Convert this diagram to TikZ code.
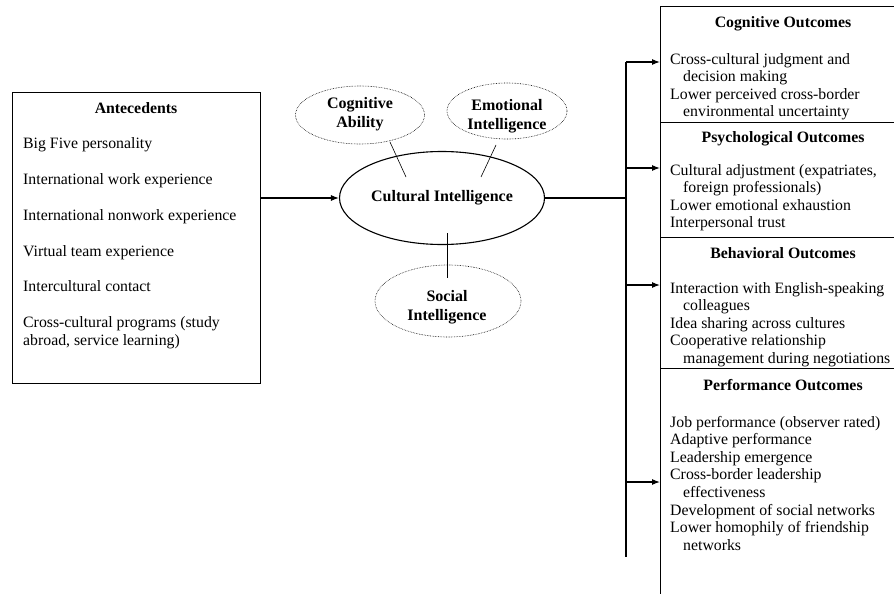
\documentclass[tikz,border=0pt]{standalone}
\usepackage{fontspec}
\setmainfont{Liberation Serif}
\usetikzlibrary{shapes.geometric,arrows.meta,calc}
\newcommand\myind{\hspace*{13pt}}
\begin{document}
\begin{tikzpicture}[x=1pt,y=-1pt,
 txt/.style={font=\fontsize{15.8}{17.6}\selectfont, inner sep=0, align=left, anchor=base west},
 ttl/.style={font=\fontsize{15.8}{17.6}\selectfont\bfseries, inner sep=0, anchor=base},
 outbox/.style={draw, line width=1.1pt, rectangle, inner sep=0, anchor=north west, minimum width=260},
 dotell/.style={ellipse, draw, densely dotted, line width=0.6pt, inner sep=0},
 etxt/.style={font=\fontsize{16}{19}\selectfont\bfseries, align=center, inner sep=0},
 conn/.style={line width=1.1pt},
 arr/.style={line width=1.1pt, -{Latex[length=8pt,width=6pt]}},
 tick/.style={line width=0.6pt}
]
\useasboundingbox (0,0) rectangle (894,594);
\fill[white] (0,0) rectangle (894,594);

% Antecedents
\node[draw, line width=1.1pt, anchor=north west, minimum width=248, minimum height=291, inner sep=0] (ante) at (12,92) {};
\node[ttl] (antet) at (136,113) {Antecedents};
\node[txt] (a1) at (23,148) {Big Five personality};
\node[txt] (a2) at (23,184) {International work experience};
\node[txt] (a3) at (23,220) {International nonwork experience};
\node[txt] (a4) at (23,256) {Virtual team experience};
\node[txt] (a5) at (23,291) {Intercultural contact};
% multi-line nodes: base anchor is the last line's baseline
\node[txt] (a6) at (23,345) {Cross-cultural programs (study\\abroad, service learning)};

% Ellipses
\node[ellipse, draw, line width=1.1pt, minimum width=205, minimum height=93, inner sep=0, etxt] (ci) at (442,198) {Cultural Intelligence};
\node[dotell, minimum width=129, minimum height=58] (ca) at (360,115) {};
\node[etxt] (cat) at (360,114) {Cognitive\\Ability};
\node[dotell, minimum width=120, minimum height=56] (ei) at (507,111) {};
\node[etxt] (eit) at (507,116) {Emotional\\Intelligence};
\node[dotell, minimum width=146, minimum height=72] (si) at (448,301) {};
\node[etxt] (sit) at (447,307) {Social\\Intelligence};

% tick connectors
\coordinate (k1a) at (390,142); \coordinate (k1b) at (406,177);
\coordinate (k2a) at (496,145); \coordinate (k2b) at (481,177);
\coordinate (k3a) at (447,233); \coordinate (k3b) at (447,278);
\draw[tick] (k1a) -- (k1b);
\draw[tick] (k2a) -- (k2b);
\draw[tick] (k3a) -- (k3b);

% arrow antecedents -> CI
\draw[arr] (ante.east |- ci.west) -- (ci.west);

% outcome boxes
\node[outbox, minimum height=116] (cogbox) at (660,6) {};
\node[outbox, minimum height=115] (psybox) at (660,122) {};
\node[outbox, minimum height=131] (behbox) at (660,237) {};
\node[outbox, minimum height=240] (perfbox) at (660,368) {};

% trunk
\coordinate (t1) at (626,62);
\coordinate (t2) at (626,168);
\coordinate (t3) at (626,285);
\coordinate (t4) at (626,482);
\coordinate (tb) at (626,557);
\draw[conn] (ci.east) -- (ci.east -| t1);
\draw[conn] (t1) -- (tb);
\draw[arr] (t1) -- (t1 -| cogbox.west);
\draw[arr] (t2) -- (t2 -| psybox.west);
\draw[arr] (t3) -- (t3 -| behbox.west);
\draw[arr] (t4) -- (t4 -| perfbox.west);

% outcome texts (base = last line)
\node[ttl] (cogt) at (783,28) {Cognitive Outcomes};
\node[txt] (cogi) at (670,116.8) {Cross-cultural judgment and\\\myind decision making\\Lower perceived cross-border\\\myind environmental uncertainty};
\node[ttl] (psyt) at (783,142) {Psychological Outcomes};
\node[txt] (psyi) at (670,227.8) {Cultural adjustment (expatriates,\\\myind foreign professionals)\\Lower emotional exhaustion\\Interpersonal trust};
\node[ttl] (beht) at (783,258) {Behavioral Outcomes};
\node[txt] (behi) at (670,363.4) {Interaction with English-speaking\\\myind colleagues\\Idea sharing across cultures\\Cooperative relationship\\\myind management during negotiations};
\node[ttl] (perft) at (783,390) {Performance Outcomes};
\node[txt] (perfi) at (670,550.2) {Job performance (observer rated)\\Adaptive performance\\Leadership emergence\\Cross-border leadership\\\myind effectiveness\\Development of social networks\\Lower homophily of friendship\\\myind networks};
\end{tikzpicture}
\end{document}
